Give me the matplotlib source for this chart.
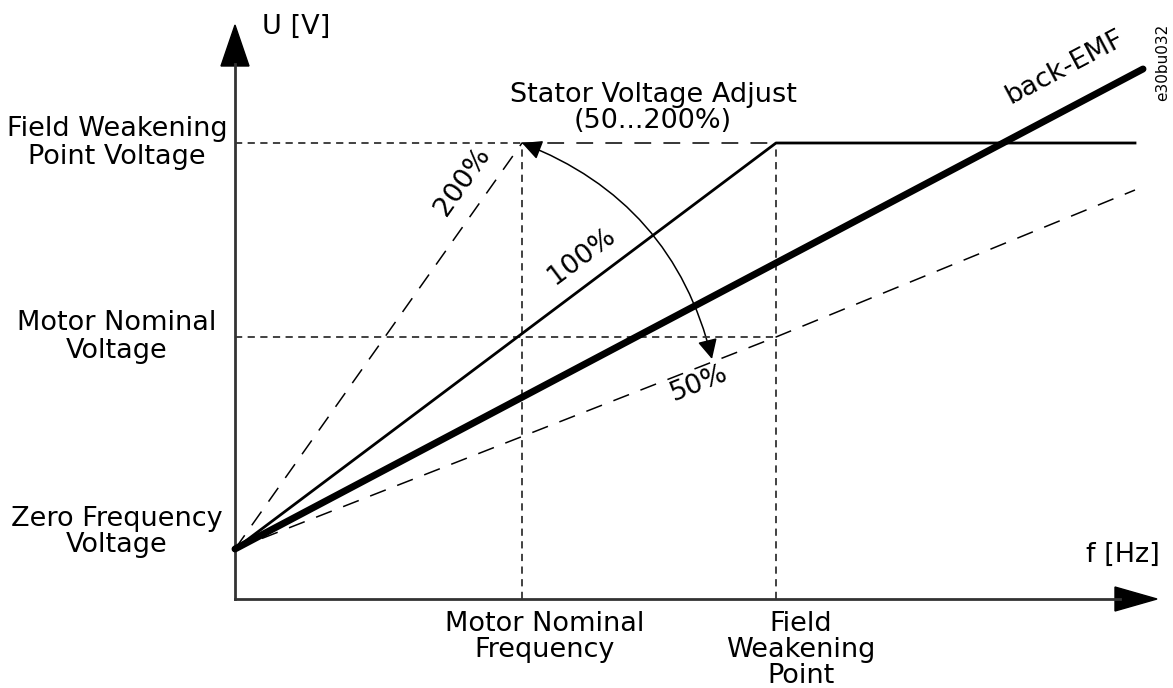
import numpy as np
import matplotlib.pyplot as plt
from matplotlib.patches import FancyArrowPatch

# diagram values (arbitrary units, origin at the axes corner)
f_nominal = 287
f_fwp = 541
f_end = 900
u_zero = 50
u_nominal = 262
u_fwp = 456

curve_100_f = [0, f_fwp, f_end]
curve_100_u = [u_zero, u_fwp, u_fwp]
curve_200_f = [0, f_nominal, f_fwp]
curve_200_u = [u_zero, u_fwp, u_fwp]
curve_50_f = [0, f_fwp, f_end]
curve_50_u = [u_zero, u_nominal, 409]
emf_f = [0, 908]
emf_u = [u_zero, 530]

y_labels = ["Field Weakening\nPoint Voltage", "Motor Nominal\nVoltage", "Zero Frequency\nVoltage"]
y_label_pos = [u_fwp, u_nominal, 67]
x_labels = ["Motor Nominal\nFrequency", "Field\nWeakening\nPoint"]
x_label_pos = [f_nominal + 23, f_fwp + 25]

fig = plt.figure(figsize=(11.73, 6.88), dpi=100)
ax = fig.add_axes([0, 0, 1, 1])
ax.set_xlim(-235, 938)
ax.set_ylim(-89, 599)
ax.axis("off")

fs = 19.5
ls = 1.05

# axes with arrows
ax.plot([0, 885], [0, 0], color="#333333", lw=2)
ax.plot([0, 0], [0, 535], color="#333333", lw=2)
ax.add_patch(plt.Polygon([[880, -12], [880, 12], [922, 0]], color="black"))
ax.add_patch(plt.Polygon([[-14, 533], [14, 533], [0, 574]], color="black"))

# reference dashed lines
ref = dict(color="#333333", lw=1.3, ls=(0, (4, 3)))
ax.plot([0, f_nominal], [u_fwp, u_fwp], **ref)
ax.plot([0, f_fwp], [u_nominal, u_nominal], **ref)
ax.plot([f_nominal, f_nominal], [0, u_fwp], **ref)
ax.plot([f_fwp, f_fwp], [0, u_fwp], **ref)

# voltage curves
ax.plot(curve_100_f, curve_100_u, color="black", lw=2)
ax.plot(curve_200_f, curve_200_u, color="black", lw=1.1, ls=(0, (11, 8)))
ax.plot(curve_50_f, curve_50_u, color="black", lw=1.1, ls=(0, (11, 8)))
ax.plot(emf_f, emf_u, color="black", lw=5, solid_capstyle="round")

# adjust arrow
arc = FancyArrowPatch((477, 240), (f_nominal, u_fwp), arrowstyle="<|-|>,head_length=12,head_width=6",
                      connectionstyle="arc3,rad=0.26", color="black", lw=1.1, shrinkA=0, shrinkB=0)
ax.add_patch(arc)

# labels
for lab, y in zip(y_labels, y_label_pos):
    ax.text(-118, y, lab, ha="center", va="center", fontsize=fs, linespacing=ls)
for lab, x in zip(x_labels, x_label_pos):
    ax.text(x, -12, lab, ha="center", va="top", fontsize=fs, linespacing=1.0)

ax.text(27, 572, "U [V]", ha="left", va="center", fontsize=fs)
ax.text(925, 44, "f [Hz]", ha="right", va="center", fontsize=fs)
ax.text(418, 491, "Stator Voltage Adjust\n(50...200%)", ha="center", va="center", fontsize=fs, linespacing=ls)
ax.text(830, 532, "back-EMF", ha="center", va="center", fontsize=fs, rotation=27.9)
ax.text(228, 418, "200%", ha="center", va="center", fontsize=fs, rotation=54.7)
ax.text(347, 343, "100%", ha="center", va="center", fontsize=fs, rotation=36.9)
ax.text(464, 216, "50%", ha="center", va="center", fontsize=fs, rotation=21.8)
ax.text(928, 537, "e30bu032", ha="center", va="center", fontsize=11, rotation=90)

fig.savefig("out.png", dpi=100)
